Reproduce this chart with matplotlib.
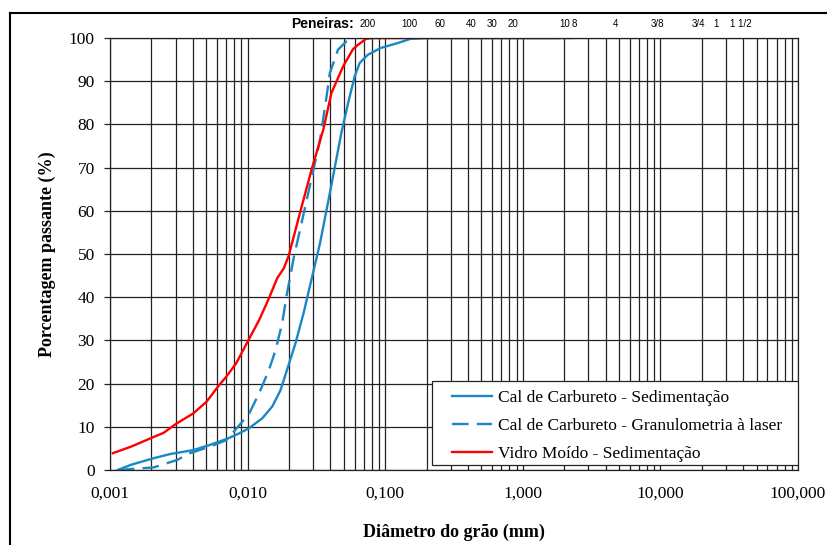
import numpy as np
import matplotlib
matplotlib.use("Agg")
import matplotlib.pyplot as plt
from matplotlib.ticker import FixedLocator, NullFormatter, LogLocator
from matplotlib.lines import Line2D
from matplotlib.patches import Rectangle

# Curvas granulometricas (diametro em mm, porcentagem passante)
d_cal_sed = [0.00114, 0.00142, 0.00206, 0.00274, 0.00403, 0.00531, 0.00719, 0.00872,
             0.01028, 0.01281, 0.01511, 0.01736, 0.01935, 0.02226, 0.02551, 0.02926,
             0.0336, 0.0396, 0.048, 0.0537, 0.060, 0.0652, 0.0746, 0.093,
             0.1224, 0.1524, 0.2, 2.3]
p_cal_sed = [0, 1.2, 2.7, 3.7, 4.6, 5.8, 7.3, 8.5,
             9.7, 12, 14.7, 18.5, 23.2, 29.3, 36.3, 44.4,
             52.5, 64.1, 78, 84.9, 91.1, 94.2, 96.1, 97.7,
             98.8, 99.8, 100, 100]

d_cal_laser = [0.00114, 0.00208, 0.00306, 0.00382, 0.00531, 0.0070, 0.00872, 0.01028,
               0.01213, 0.01431, 0.01598, 0.01783, 0.01935, 0.0216, 0.02624, 0.0301,
               0.0336, 0.0375, 0.0396, 0.0454, 0.0521, 0.060]
p_cal_laser = [0, 0.6, 2.3, 3.9, 5.4, 6.9, 10.4, 13.1,
               17.8, 23.2, 27.8, 34, 40.9, 49, 61, 69.5,
               76.4, 86.5, 91.9, 97.3, 99.2, 100]

d_vidro = [0.00105, 0.00142, 0.00206, 0.00245, 0.00306, 0.00403, 0.00503, 0.00609,
           0.0070, 0.00826, 0.01, 0.01213, 0.01431, 0.01641, 0.01834, 0.0199,
           0.02415, 0.02926, 0.0355, 0.0407, 0.0494, 0.0583, 0.0633, 0.0725,
           0.08, 1.8]
p_vidro = [3.9, 5.4, 7.6, 8.6, 10.8, 13.1, 15.8, 19.3,
           21.6, 24.7, 29.7, 34.7, 39.8, 44.4, 46.7, 49.6,
           59.8, 69.7, 78.8, 87.3, 93.4, 97.4, 98.4, 99.8,
           100, 100]

# Peneiras (abertura em mm)
peneiras_nome = ["200", "100", "60", "40", "30", "20", "10", "8", "4", "3/8", "3/4", "1", "1 1/2"]
peneiras_mm = [0.075, 0.150, 0.250, 0.425, 0.600, 0.850, 2.00, 2.36, 4.75, 9.5, 19.0, 25.4, 38.1]

xticks = [0.001, 0.01, 0.1, 1, 10, 100]
xlabels = ["0,001", "0,010", "0,100", "1,000", "10,000", "100,000"]
yticks = list(range(0, 101, 10))

azul = "#1b87c3"
vermelho = "#ff0000"
serif = ["Liberation Serif", "DejaVu Serif"]
sans = ["Liberation Sans", "DejaVu Sans"]

fig = plt.figure(figsize=(8.27, 5.45), dpi=100)
ax = fig.add_axes([110/827, 1-470/545, 688/827, 432/545])

# grade
ax.set_xscale("log")
ax.set_xlim(0.001, 100)
ax.set_ylim(0, 100)
ax.xaxis.set_major_locator(FixedLocator(xticks))
ax.xaxis.set_minor_locator(LogLocator(base=10, subs=np.arange(2, 10)))
ax.xaxis.set_minor_formatter(NullFormatter())
ax.set_xticklabels(xlabels)
ax.set_yticks(yticks)
ax.grid(True, which="both", axis="x", color="#222222", lw=0.9)
ax.grid(True, which="major", axis="y", color="#222222", lw=0.9)
ax.set_axisbelow(True)

ax.tick_params(axis="x", which="both", length=0, pad=11)
ax.tick_params(axis="y", length=4, width=0.9, pad=7, color="#222222")
for lab in ax.get_xticklabels() + ax.get_yticklabels():
    lab.set_family(serif)
    lab.set_fontsize(12.5)
for s in ax.spines.values():
    s.set_color("#222222")
    s.set_linewidth(0.9)

ax.plot(d_cal_sed, p_cal_sed, color=azul, lw=1.7, label="Cal de Carbureto - Sedimentação")
ax.plot(d_cal_laser, p_cal_laser, color=azul, lw=1.7, dashes=(7, 3.5),
        label="Cal de Carbureto - Granulometria à laser")
ax.plot(d_vidro, p_vidro, color=vermelho, lw=1.7, label="Vidro Moído - Sedimentação")

# caixa da legenda
ax.add_patch(Rectangle((0.4687, 0.0116), 1.0 - 0.4687, 0.206 - 0.0116, transform=ax.transAxes,
                       facecolor="white", edgecolor="#222222", lw=0.9, zorder=3))
leg = ax.legend(loc="upper left", bbox_to_anchor=(0.4978, 0.1865), borderaxespad=0,
                prop={"family": serif, "size": 12.5}, frameon=False, borderpad=0,
                handlelength=2.3, handletextpad=0.3, labelspacing=0.69)
leg.set_zorder(5)

ax.set_xlabel("Diâmetro do grão (mm)", family=serif, fontsize=13, fontweight="bold", labelpad=16)
ax.set_ylabel("Porcentagem passante (%)", family=serif, fontsize=13, fontweight="bold", labelpad=9)

# peneiras no topo
for nome, mm in zip(peneiras_nome, peneiras_mm):
    ax.text(mm, 1.032, nome, transform=ax.get_xaxis_transform(), ha="center", va="center",
            family=sans, fontsize=7)
fig.text(354/827, 1-24/545, "Peneiras:", ha="right", va="center", family=sans,
         fontsize=10, fontweight="bold")

# moldura
fig.add_artist(Line2D([10/827, 10/827], [0, 1-13/545], color="black", lw=1.5))
fig.add_artist(Line2D([10/827, 1], [1-13/545, 1-13/545], color="black", lw=1.5))

fig.savefig("out.png", dpi=100)
